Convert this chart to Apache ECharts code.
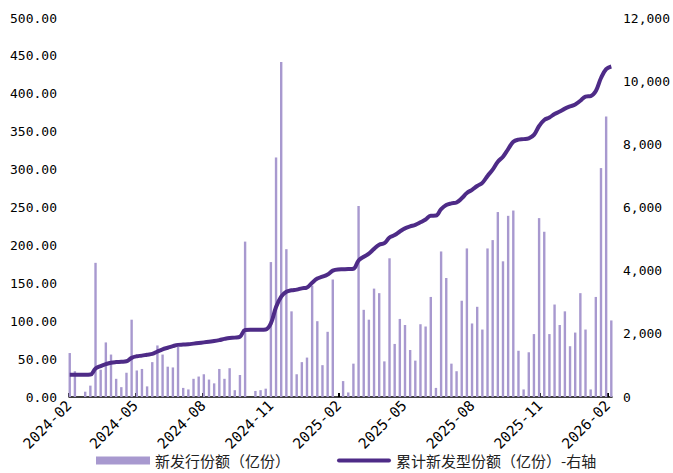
<!DOCTYPE html>
<html>
<head>
<meta charset="utf-8">
<script src="https://cdn.jsdelivr.net/npm/echarts@6/dist/echarts.min.js"></script>
<style>html,body{margin:0;padding:0;background:#fff}#c{width:673px;height:473px}</style>
</head>
<body>
<div id="c"></div>
<script>
const weeks = [
'2024-02-02','2024-02-09','2024-02-16','2024-02-23','2024-03-01','2024-03-08','2024-03-15','2024-03-22','2024-03-29',
'2024-04-05','2024-04-12','2024-04-19','2024-04-26','2024-05-03','2024-05-10','2024-05-17','2024-05-24','2024-05-31',
'2024-06-07','2024-06-14','2024-06-21','2024-06-28','2024-07-05','2024-07-12','2024-07-19','2024-07-26',
'2024-08-02','2024-08-09','2024-08-16','2024-08-23','2024-08-30','2024-09-06','2024-09-13','2024-09-20','2024-09-27',
'2024-10-04','2024-10-11','2024-10-18','2024-10-25','2024-11-01','2024-11-08','2024-11-15','2024-11-22','2024-11-29',
'2024-12-06','2024-12-13','2024-12-20','2024-12-27',
'2025-01-03','2025-01-10','2025-01-17','2025-01-24','2025-01-31','2025-02-07','2025-02-14','2025-02-21','2025-02-28',
'2025-03-07','2025-03-14','2025-03-21','2025-03-28','2025-04-04','2025-04-11','2025-04-18','2025-04-25',
'2025-05-02','2025-05-09','2025-05-16','2025-05-23','2025-05-30','2025-06-06','2025-06-13','2025-06-20','2025-06-27',
'2025-07-04','2025-07-11','2025-07-18','2025-07-25','2025-08-01','2025-08-08','2025-08-15','2025-08-22','2025-08-29',
'2025-09-05','2025-09-12','2025-09-19','2025-09-26','2025-10-03','2025-10-10','2025-10-17','2025-10-24','2025-10-31',
'2025-11-07','2025-11-14','2025-11-21','2025-11-28','2025-12-05','2025-12-12','2025-12-19','2025-12-26',
'2026-01-02','2026-01-09','2026-01-16','2026-01-23','2026-01-30','2026-02-06'
];

const newIssue = [
58,34,0,7,15,177,36,72,56,24,13,32,102,35,37,14,46,68,56,40,39,66,12,10,24,27,30,23,18,37,24,38,9,29,205,0,
8,9,11,178,316,442,195,113,30,46,52,147,100,42,86,155,0,21,6,44,252,115,102,143,137,47,183,70,103,95,62,48,96,93,132,12,
192,157,44,34,127,196,97,119,89,196,207,244,179,239,246,61,10,59,83,236,218,83,122,95,113,67,85,137,89,10,132,302,370,101
];

const cumulative = [
703,703,703,703,710,900,980,1040,1085,1105,1115,1130,1240,1290,1310,1340,1365,1440,1510,1560,1610,1650,1660,1670,1690,1710,
1730,1750,1770,1800,1840,1870,1880,1910,2120,2130,2130,2130,2140,2330,2850,3180,3330,3380,3400,3440,3470,3620,3750,3810,
3880,4000,4040,4045,4050,4060,4320,4440,4540,4690,4820,4870,5050,5130,5240,5340,5400,5450,5530,5620,5740,5745,5950,6080,
6130,6160,6290,6460,6560,6680,6780,7000,7200,7450,7610,7850,8080,8150,8165,8190,8300,8580,8770,8850,8960,9040,9130,9200,
9260,9380,9510,9530,9690,10100,10380,10465
];

const tickMonths = ['2024-02','2024-05','2024-08','2024-11','2025-02','2025-05','2025-08','2025-11','2026-02'];

const seriesNames = ['新发行份额（亿份）', '累计新发型份额（亿份）-右轴'];

const DAY = 86400000;
function dayNum(y, m, d) { return Date.UTC(y, m - 1, d) / DAY; }
function monthNum(s) { const p = s.split('-'); return dayNum(+p[0], +p[1], 1); }
function dateNum(s) { const p = s.split('-'); return dayNum(+p[0], +p[1], +p[2]); }
const tickVals = tickMonths.map(monthNum);
const tickLabelOf = {};
tickMonths.forEach((m, i) => { tickLabelOf[tickVals[i]] = m; });

const chart = echarts.init(document.getElementById('c'), null, {renderer: 'svg'});
const numFont = 'DejaVu Sans Mono';
chart.setOption({
  animation: false,
  grid: {left: 69, right: 60, top: 18, bottom: 76, containLabel: false},
  legend: {
    left: 91, top: 448,
    itemWidth: 54, itemHeight: 8, itemGap: 47,
    textStyle: {fontFamily: 'Noto Sans CJK SC', fontSize: 15, color: '#222'},
    data: [
      {name: seriesNames[0], icon: 'rect'},
      {name: seriesNames[1], icon: 'path://M2,0H52A2,2,0,0,1,52,4H2A2,2,0,0,1,2,0Z'}
    ]
  },
  xAxis: {
    type: 'value',
    min: monthNum('2024-02'),
    max: dateNum('2026-02-07'),
    axisLine: {onZero: false, lineStyle: {color: '#000', width: 1.5}},
    axisTick: {show: true, inside: true, length: 4, lineStyle: {color: '#000', width: 2}, customValues: tickVals},
    axisLabel: {
      customValues: tickVals, rotate: 45, fontFamily: numFont, fontSize: 14.5, color: '#000', margin: 6,
      formatter: function (v) { return tickLabelOf[v] || ''; }
    },
    splitLine: {show: false}
  },
  yAxis: [
    {
      type: 'value', min: 0, max: 500, interval: 50,
      axisLine: {show: false}, axisTick: {show: false}, splitLine: {show: false},
      axisLabel: {fontFamily: numFont, fontSize: 13, color: '#000', margin: 12, formatter: v => v.toFixed(2)}
    },
    {
      type: 'value', min: 0, max: 12000, interval: 2000,
      axisLine: {show: false}, axisTick: {show: false}, splitLine: {show: false},
      axisLabel: {fontFamily: numFont, fontSize: 13, color: '#000', margin: 11, formatter: v => v.toLocaleString('en-US')}
    }
  ],
  series: [
    {
      name: seriesNames[0], type: 'bar', yAxisIndex: 0, barWidth: 2.4,
      itemStyle: {color: '#A899CF'},
      data: weeks.map((d, i) => [dateNum(d), newIssue[i]])
    },
    {
      name: seriesNames[1], type: 'line', yAxisIndex: 1, symbol: 'none', smooth: 0.4,
      lineStyle: {color: '#4E2B87', width: 4}, itemStyle: {color: '#4E2B87'},
      data: weeks.map((d, i) => [dateNum(d), cumulative[i]])
    }
  ]
});
</script>
</body>
</html>
